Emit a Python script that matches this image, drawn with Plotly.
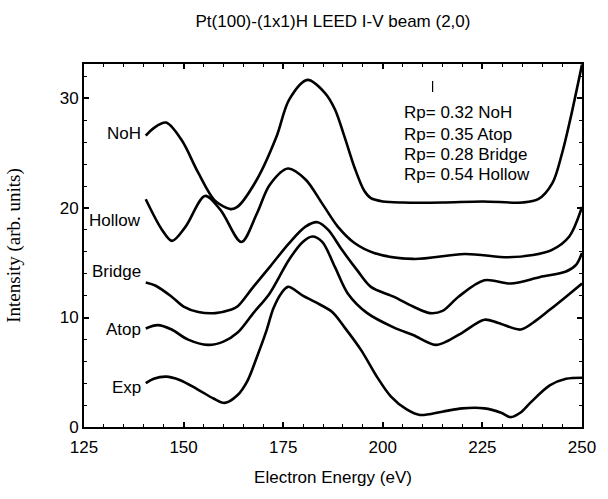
import plotly.graph_objects as go

title_text = "Pt(100)-(1x1)H LEED I-V beam (2,0)"
x_title = "Electron Energy (eV)"
y_title = "Intensity (arb. units)"

x_ticks = [125, 150, 175, 200, 225, 250]
y_ticks = [0, 10, 20, 30]

noh_x = [140.5, 142.5, 145.6, 149.5, 153.7, 157.8, 161.8, 163.5, 168.4, 173.3, 176.5, 181.1,
         185.5, 188.0, 190.4, 192.9, 195.3, 197.0, 200.0, 205, 215, 225, 235, 239, 242.6, 245,
         247, 250]
noh_y = [26.6, 27.3, 27.8, 26.2, 23.2, 20.7, 19.9, 20.1, 22.6, 26.5, 29.9, 31.7,
         30.5, 29.0, 26.5, 23.7, 21.6, 20.9, 20.6, 20.5, 20.5, 20.6, 20.5, 20.8, 22.3, 25.0,
         28.0, 33.1]

hollow_x = [140.5, 144.6, 147.1, 150.5, 155.4, 159.3, 164.5, 168.4, 171.6, 176.2, 180.6, 184.8,
            188.7, 192.9, 197.8, 207.6, 220.6, 231.4, 237.7, 242.6, 246.8, 250]
hollow_y = [20.8, 18.0, 17.0, 18.3, 21.1, 19.8, 16.9, 19.5, 22.1, 23.6, 22.6, 20.4,
            18.3, 16.8, 15.9, 15.35, 15.8, 15.5, 15.7, 16.2, 17.4, 20.1]

bridge_x = [140.5, 143, 147, 150, 153.7, 158, 161.8, 163.5, 167.5, 171.6, 176.5, 180.6, 183.6,
            186.3, 189.7, 193.6, 197, 202.7, 207.6, 211.8, 215, 219, 225.5, 232.1, 239.5, 246,
            248.5, 250]
bridge_y = [13.2, 12.9, 11.9, 11.0, 10.5, 10.4, 10.7, 11.0, 12.8, 14.6, 16.8, 18.3, 18.7,
            18.0, 16.2, 14.3, 12.8, 11.9, 11.0, 10.4, 10.6, 11.9, 13.4, 13.1, 13.7, 14.2,
            14.8, 15.9]

atop_x = [140.5, 143.5, 147, 151, 156.1, 160, 163.5, 167.5, 171.6, 176.5, 179.9, 182.3, 184.8,
          188, 191.2, 196.1, 202.7, 207.6, 213.2, 216.5, 219.9, 225.5, 229, 234.6,
          238, 241.9, 246, 250]
atop_y = [9.0, 9.3, 8.9, 8.0, 7.5, 7.8, 8.6, 10.4, 12.2, 15.3, 16.9, 17.4, 16.9,
          14.6, 12.2, 10.4, 9.1, 8.4, 7.5, 7.9, 8.6, 9.8, 9.5, 8.9,
          9.6, 10.7, 11.9, 13.1]

exp_x = [140.5, 142.5, 145.6, 149, 153.7, 157.5, 160.3, 163.5, 166, 168.4, 170.8, 172.5, 174.5,
         176.2, 179.9, 183.1, 187.3, 190.4, 194.6, 198.5, 202.0, 206, 209.3, 214.9,
         219.9, 225.5, 229.7, 232.1, 234.5, 237, 241.9, 246, 250]
exp_y = [4.0, 4.4, 4.6, 4.3, 3.4, 2.6, 2.2, 2.9, 4.2, 6.4, 8.8, 10.8, 12.2,
         12.8, 12.0, 11.4, 10.5, 9.1, 7.0, 4.6, 2.8, 1.6, 1.1, 1.4,
         1.7, 1.7, 1.3, 0.9, 1.3, 2.2, 3.8, 4.4, 4.5]

series_names = ["NoH", "Hollow", "Bridge", "Atop", "Exp"]
label_y = [26.8, 18.9, 14.2, 8.9, 3.65]

rp_lines = ["Rp= 0.32 NoH", "Rp= 0.35 Atop", "Rp= 0.28 Bridge", "Rp= 0.54 Hollow"]
rp_y = [28.7, 26.75, 24.9, 23.05]

fig = go.Figure()
for xs, ys in [(noh_x, noh_y), (hollow_x, hollow_y), (bridge_x, bridge_y),
               (atop_x, atop_y), (exp_x, exp_y)]:
    fig.add_trace(go.Scatter(x=xs, y=ys, mode="lines",
                             line=dict(color="black", width=2.6, shape="spline", smoothing=0.9),
                             showlegend=False, hoverinfo="skip"))

sans = "Liberation Sans Narrow, Arial Narrow, Liberation Sans, Arial, sans-serif"

for name, yv in zip(series_names, label_y):
    fig.add_annotation(x=140.5, y=yv, text=name, showarrow=False, xanchor="right",
                       yanchor="middle", xshift=-3, font=dict(family=sans, size=17, color="black"))

for t, yv in zip(rp_lines, rp_y):
    fig.add_annotation(x=203.7, y=yv, text=t, showarrow=False, xanchor="left",
                       yanchor="middle", xshift=4, font=dict(family=sans, size=17, color="black"))

fig.add_shape(type="line", x0=212.5, x1=212.5, y0=30.6, y1=31.6,
              line=dict(color="black", width=1.2))

fig.update_layout(
    width=608, height=499,
    margin=dict(l=83, r=15, t=64, b=72),
    paper_bgcolor="white", plot_bgcolor="white",
    title=dict(text=title_text, x=0.5, xref="paper", y=1 - 21 / 499, yref="container",
               xanchor="center", yanchor="middle",
               font=dict(family=sans, size=17, color="black")),
    showlegend=False,
)
fig.update_xaxes(range=[125, 250], tickvals=x_ticks, ticktext=[str(v) for v in x_ticks],
                 showgrid=False, zeroline=False, showline=True, linecolor="black", linewidth=2,
                 mirror="allticks", ticks="inside", ticklen=5, tickwidth=1.5, tickcolor="black",
                 minor=dict(dtick=5, tick0=125, ticks="inside", ticklen=3, tickwidth=1.2,
                            tickcolor="black", showgrid=False),
                 ticklabelstandoff=4,
                 tickfont=dict(family=sans, size=17, color="black"),
                 title=dict(text=x_title, standoff=15,
                            font=dict(family=sans, size=17, color="black")))
fig.update_yaxes(range=[0, 33.15], tickvals=y_ticks, ticktext=[str(v) for v in y_ticks],
                 showgrid=False, zeroline=False, showline=True, linecolor="black", linewidth=2,
                 mirror="allticks", ticks="inside", ticklen=5, tickwidth=1.5, tickcolor="black",
                 minor=dict(dtick=2, tick0=0, ticks="inside", ticklen=3, tickwidth=1.2,
                            tickcolor="black", showgrid=False),
                 tickfont=dict(family=sans, size=17, color="black"),
                 title=dict(text=y_title, standoff=34,
                            font=dict(family="Liberation Serif, Times New Roman, serif", size=19,
                                      color="black")))

fig.write_html("out.html", config={"displayModeBar": False},
               post_script="document.body.style.margin='0';document.body.style.padding='0';")
